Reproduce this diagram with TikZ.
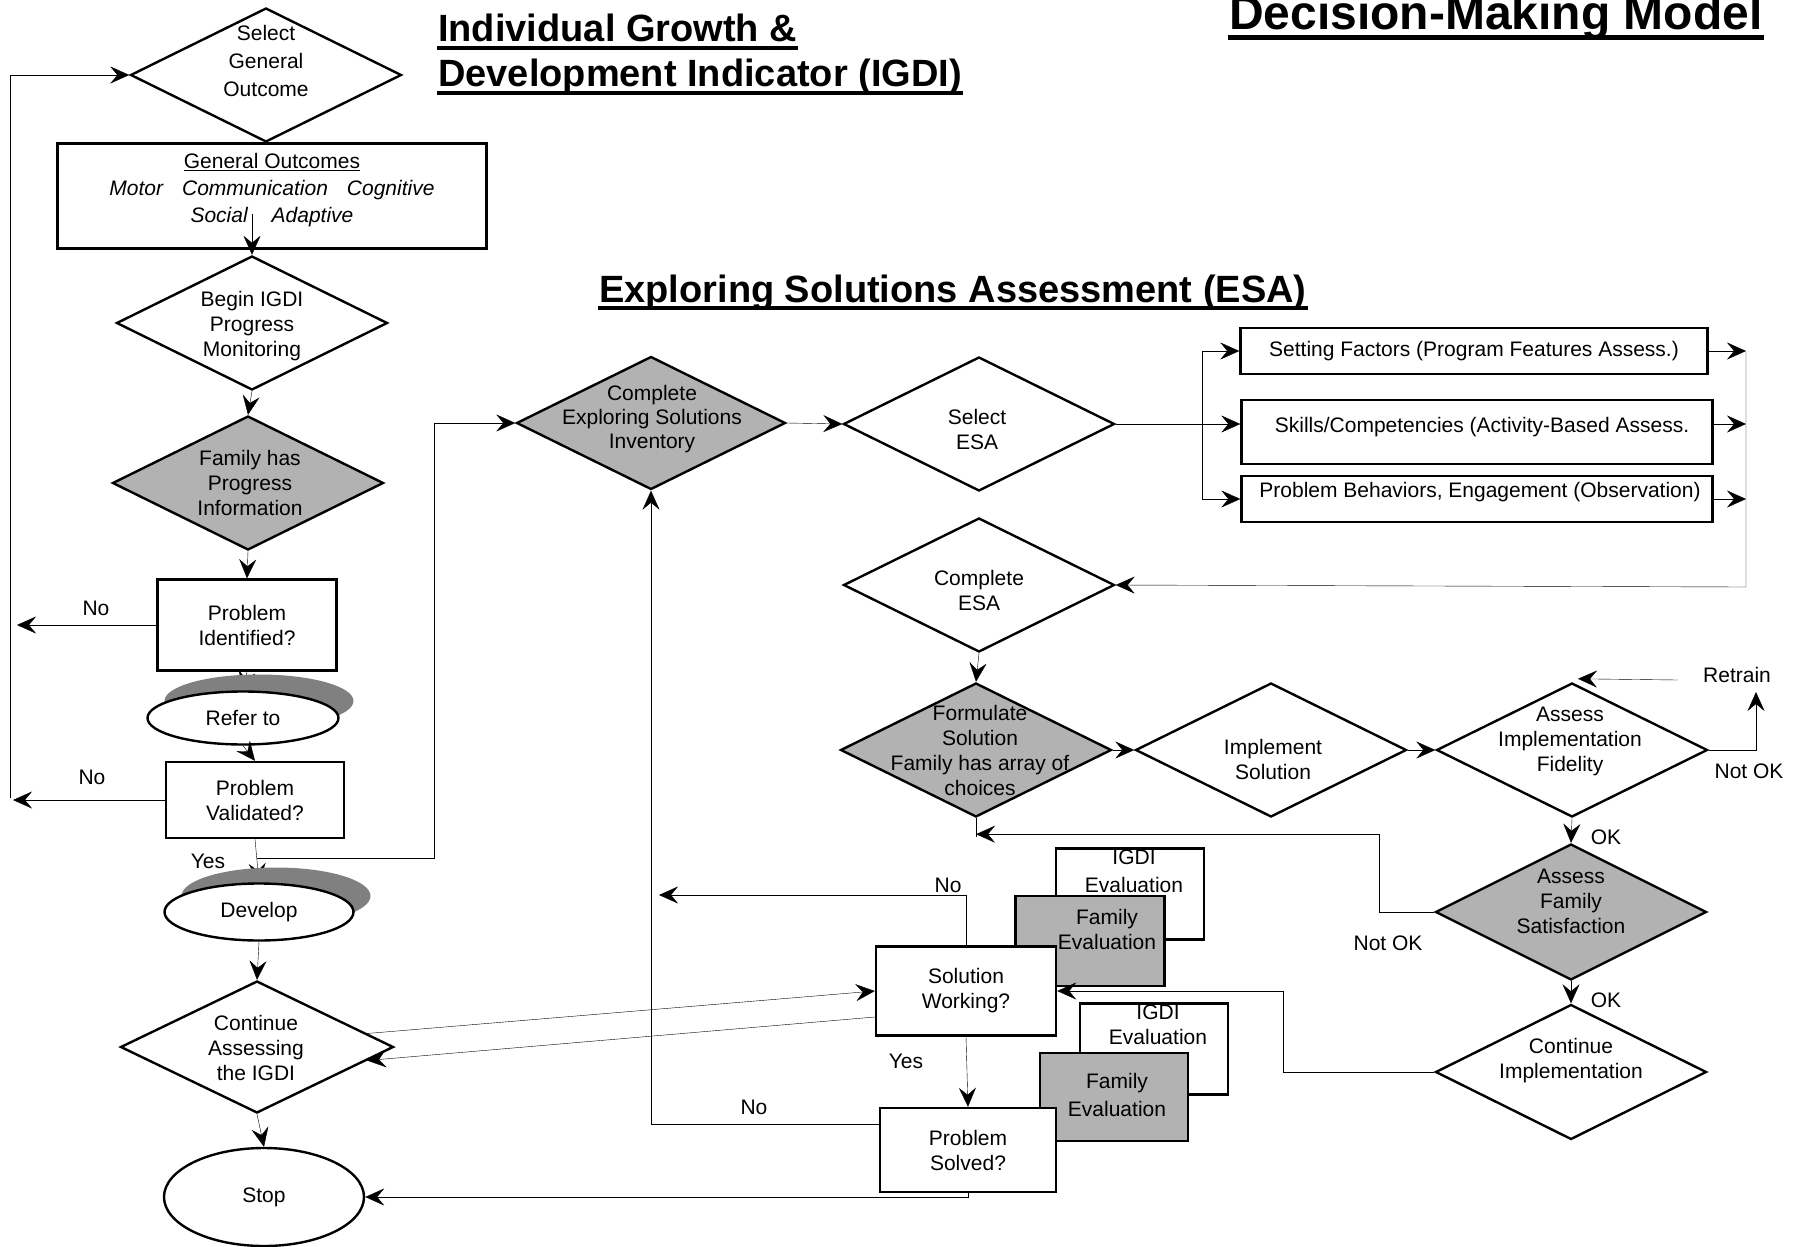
\documentclass[tikz,border=0pt]{standalone}
\usepackage{fontspec}
\setmainfont{Liberation Sans}
\usetikzlibrary{shapes.geometric, positioning, arrows.meta, backgrounds}
\tikzset{
arr/.style={-{Stealth[length=19pt,width=17pt,inset=7pt]}}, % the heavy arrow heads
txt/.style={font=\fontsize{21}{25}\selectfont, align=center, inner sep=0pt}, % all the small text
dia/.style={diamond, draw, fill=white, inner sep=0pt, minimum width=271pt, minimum height=134pt}, % decision shapes
shaded/.style={fill=gray!60}, % grey family steps
box/.style={rectangle, draw, fill=white, txt},
oval/.style={ellipse, draw, fill=white, txt},
ovalshade/.style={ellipse, fill=gray, inner sep=0pt}, % offset shadow behind an oval
ttl/.style={font=\fontsize{38}{44}\selectfont\bfseries, inner sep=0pt, anchor=base west},
}

\begin{document}
\begin{tikzpicture}[x=1pt, y=-1pt, line width=2.4pt]
\useasboundingbox (0,0) rectangle (1794,1247);

% titles
\node[ttl] (igdi1) at (437,42) {Individual Growth \&};
\node[ttl] (igdi2) at (437,87) {Development Indicator (IGDI)};
\node[ttl] (esa) at (598,302) {Exploring Solutions Assessment (ESA)};
\node[ttl, font=\fontsize{48}{56}\selectfont\bfseries] (dmm) at (1228,30) {Decision-Making Model};
\foreach \t in {igdi1,igdi2,esa}
  \draw[line width=4pt] ([yshift=-6pt]\t.base west) -- ([yshift=-6pt]\t.base east);
\draw[line width=5pt] ([yshift=-8pt]dmm.base west) -- ([yshift=-8pt]dmm.base east);

% IGDI column
\node[dia] (selgo) at (266,75) {};
\node[txt, font=\fontsize{21}{28}\selectfont] (selgo-t) at (266,61) {Select\\General\\Outcome};
\node[box, minimum width=429pt, minimum height=105pt] (genout) at (272,196) {};
\node[txt, font=\fontsize{21}{27}\selectfont] (genout-t) at (272,190)
  {\underline{General Outcomes}\\ \textit{Motor\hspace{19pt}Communication\hspace{19pt}Cognitive}\\ \textit{Social\hspace{24pt}Adaptive}};
\coordinate (socgap) at (252,214);
\node[dia] (beg) at (252,323) {};
\node[txt] (beg-t) at (252,326) {Begin IGDI\\Progress\\Monitoring};
\node[dia, shaded] (fam) at (248,483) {};
\node[txt] (fam-t) at (250,483) {Family has\\Progress\\Information};
\node[box, minimum width=179pt, minimum height=91pt] (pi) at (247,625) {Problem\\Identified?};
\node[ovalshade, minimum width=189pt, minimum height=53pt] (refer-sh) at (259,701) {};
\node[oval, minimum width=191pt, minimum height=53pt] (refer) at (243,718) {Refer to};
\node[box, minimum width=178pt, minimum height=76pt] (pv) at (255,800) {Problem\\Validated?};
\node[ovalshade, minimum width=189pt, minimum height=57pt] (dev-sh) at (276,896) {};
\node[oval, minimum width=189pt, minimum height=57pt] (dev) at (259,912) {Develop};
\node[dia, minimum width=273pt, minimum height=132pt] (cab) at (257,1047) {};
\node[txt] (cab-t) at (256,1048) {Continue\\Assessing\\the IGDI};
\node[oval, minimum width=200pt, minimum height=98pt] (stop) at (264,1197) {Stop};

% ESA part
\node[dia, shaded, minimum width=269pt, minimum height=133pt] (cei) at (651,423) {};
\node[txt, font=\fontsize{21}{24}\selectfont] (cei-t) at (652,419) {Complete\\Exploring Solutions\\Inventory};
\node[dia] (sesa) at (979,424) {};
\node[txt] (sesa-t) at (977,429) {Select\\ESA};
\node[box, minimum width=467pt, minimum height=46pt] (sf) at (1474,351) {Setting Factors (Program Features Assess.)};
\node[box, minimum width=471pt, minimum height=64pt] (sk) at (1477,432) {};
\node[txt] (sk-t) at (1482,427) {Skills/Competencies (Activity-Based Assess.};
\node[box, minimum width=471pt, minimum height=46pt] (pb) at (1477,499) {};
\node[txt] (pb-t) at (1480,492) {Problem Behaviors, Engagement (Observation)};
\node[dia] (cesa) at (979,585) {};
\node[txt] (cesa-t) at (979,590) {Complete\\ESA};
\node[dia, shaded] (form) at (976,750) {};
\node[txt] (form-t) at (980,750) {Formulate\\Solution\\Family has array of\\choices};
\node[dia] (impl) at (1271,750) {};
\node[txt] (impl-t) at (1273,759) {Implement\\Solution};
\node[dia] (aif) at (1572,750) {};
\node[txt] (aif-t) at (1570,741) {Assess\\Implementation\\Fidelity};
\node[dia, shaded, minimum height=136pt] (afs) at (1571,912) {};
\node[txt] (afs-t) at (1571,901) {Assess\\Family\\Satisfaction};
\node[dia, minimum height=135pt] (ci) at (1571,1072) {};
\node[txt] (ci-t) at (1571,1061) {Continue\\Implementation};

% evaluation boxes behind the two questions
\node[box, minimum width=148pt, minimum height=91pt] (ie1) at (1130,894) {};
\node[txt, font=\fontsize{21}{28}\selectfont] (ie1-t) at (1134,871) {IGDI\\Evaluation};
\node[box, shaded, minimum width=149pt, minimum height=90pt] (fe1) at (1090,941) {};
\node[txt] (fe1-t) at (1107,929) {Family\\Evaluation};
\node[box, minimum width=180pt, minimum height=89pt] (sw) at (966,991) {Solution\\Working?};
\node[box, minimum width=148pt, minimum height=91pt] (ie2) at (1154,1049) {};
\node[txt] (ie2-t) at (1158,1025) {IGDI\\Evaluation};
\node[box, shaded, minimum width=148pt, minimum height=88pt] (fe2) at (1114,1097) {};
\node[txt, font=\fontsize{21}{28}\selectfont] (fe2-t) at (1117,1095) {Family\\Evaluation};
\node[box, minimum width=176pt, minimum height=84pt] (ps) at (968,1150) {Problem\\Solved?};

% branch labels
\node[txt] (no1) at (96,608) {No};
\node[txt] (no2) at (92,777) {No};
\node[txt] (yes1) at (208,861) {Yes};
\node[txt] (no3) at (948,885) {No};
\node[txt] (no4) at (754,1107) {No};
\node[txt] (yes2) at (906,1061) {Yes};
\node[txt] (retrain) at (1737,675) {Retrain};
\node[txt] (notok1) at (1749,771) {Not OK};
\node[txt] (ok1) at (1606,837) {OK};
\node[txt] (notok2) at (1388,943) {Not OK};
\node[txt] (ok2) at (1606,1000) {OK};

% free ends
\coordinate (noA) at (17,625);
\coordinate (noB) at (13,800);
\coordinate (fb) at (10,798);
\coordinate (yesj) at (257,858);
\coordinate (swno) at (659,895);
\coordinate (rt) at (1746,351);
\coordinate (rb) at (1746,587);
\coordinate (retrup) at (1756,692);

% connectors passing under the shadows
\begin{pgfonlayer}{background}
\draw[arr] (pi.south) -- (refer.north);
\draw[arr] (pv.south) -- (dev.north);
\end{pgfonlayer}

\draw[arr] (fb) |- (selgo.west);
\draw[arr] (socgap) -- (beg.north);
\draw[arr] (beg.south) -- (fam.north);
\draw[arr] (fam.south) -- (pi.north);
\draw[arr] (pi.west) -- (noA |- pi.west);
\draw[arr] (refer.south) -- (pv.north);
\draw[arr] (pv.west) -- (noB |- pv.west);
\draw[arr] (yesj) -- ++(177,0) |- (cei.west);
\draw[arr] (dev.south) -- (cab.north);
\draw[arr] (cab.south) -- (stop.north);
\draw[arr] (cab.7) -- (sw.west);
\draw[arr] ([yshift=-26pt]sw.west) -- (cab.-7);
\draw[arr] (sw.north) |- (swno);
\draw[arr] (sw.south) -- (ps.north);
\draw[arr] ([yshift=26pt]ps.west) -| (cei.south);
\draw[arr] (ps.south) |- (stop.east);

\draw[arr] (cei.east) -- (sesa.west);
\draw[arr] (sesa.east) -- (sk.west |- sesa.east);
\draw[arr] (sesa.east) -- ++(86,0) |- (sf.west);
\draw[arr] (sesa.east) -- ++(86,0) |- (pb.west);
\draw[arr] (sf.east) -- (rt);
\draw[arr] (sk.east |- sesa.east) -- (rt |- sesa.east);
\draw[arr] (pb.east) -- (rt |- pb.east);
\draw[arr] (rt) -- (rb) -- (cesa.east);
\draw[arr] (cesa.south) -- (form.north);
\draw[arr] (form.east) -- (impl.west);
\draw[arr] (impl.east) -- (aif.west);
\draw[arr] (aif.east) -| (retrup);
\draw[arr] ([xshift=-24pt,yshift=-5pt]retrain.west) -- ([xshift=6pt,yshift=3pt]aif.north);
\draw[arr] (aif.south) -- (afs.north);
\draw (form.south) -- ++(0,19);
\draw[arr] (afs.west) -- ++(-55,0) |- ([yshift=-16pt]form.south);
\draw[arr] (afs.south) -- (ci.north);
\draw[arr] (ci.west) -- ++(-151,0) |- (sw.east);
\end{tikzpicture}
\end{document}
